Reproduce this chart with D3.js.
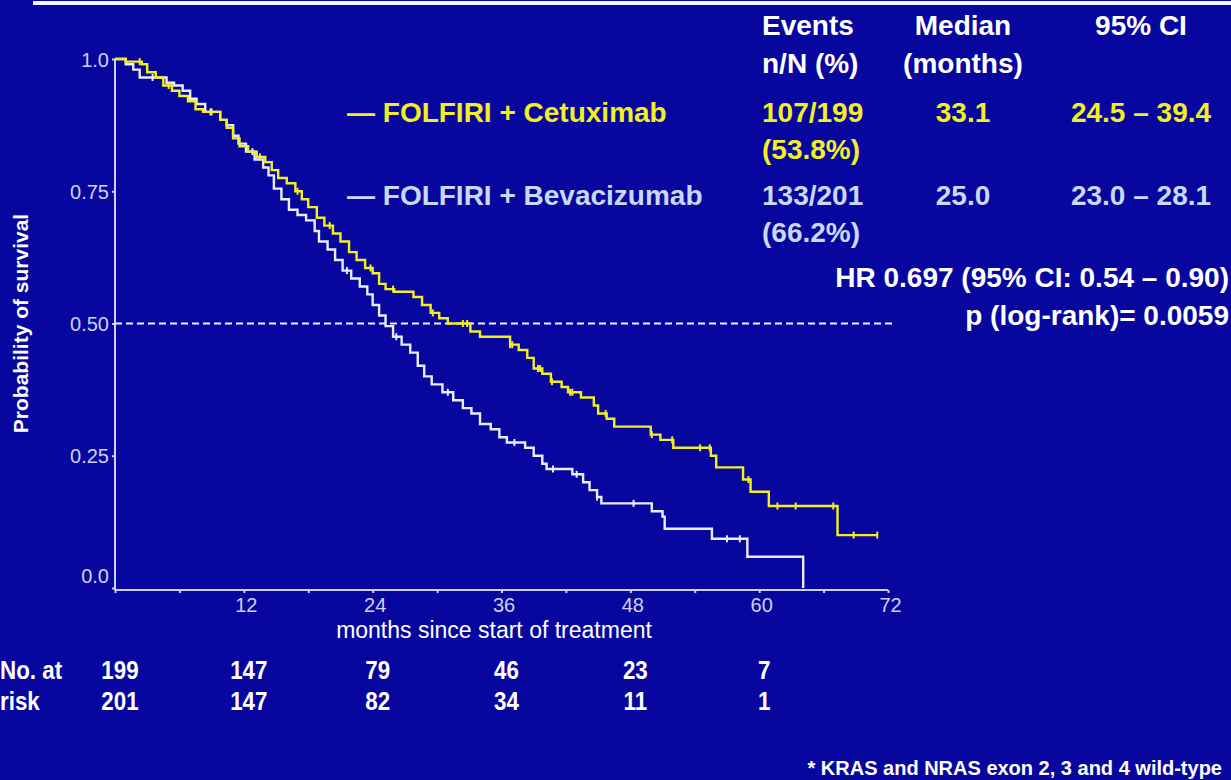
<!DOCTYPE html>
<html>
<head>
<meta charset="utf-8">
<script src="https://cdn.jsdelivr.net/npm/d3@7/dist/d3.min.js"></script>
<style>
  html, body { margin: 0; padding: 0; background: #0707a0; }
  svg { display: block; }
</style>
</head>
<body>
<svg id="chart" width="1231" height="780"></svg>
<script>
// Kaplan–Meier overall survival, FOLFIRI + Cetuximab vs FOLFIRI + Bevacizumab

// Step points: [month, survival after the step]
const cetuximabSteps = [
  [0, 1.0], [1.0, 0.995], [2.5, 0.99], [3.0, 0.975], [3.8, 0.965], [4.5, 0.95],
  [5.3, 0.94], [6.0, 0.93], [6.8, 0.92], [7.5, 0.905], [8.2, 0.90], [9.8, 0.885],
  [10.4, 0.87], [11.0, 0.85], [11.6, 0.835], [12.4, 0.825], [13.2, 0.815], [14.0, 0.805],
  [14.6, 0.79], [15.2, 0.775], [16.0, 0.765], [16.8, 0.75], [17.4, 0.735], [18.0, 0.72],
  [18.8, 0.70], [19.5, 0.685], [20.3, 0.67], [21.0, 0.655], [21.8, 0.635], [22.5, 0.62],
  [23.3, 0.605], [24.0, 0.595], [24.6, 0.575], [25.2, 0.565], [26.0, 0.56], [27.8, 0.55],
  [28.6, 0.535], [29.4, 0.52], [30.2, 0.51], [31.0, 0.50], [33.1, 0.485], [34.0, 0.475],
  [36.8, 0.46], [37.6, 0.45], [38.4, 0.435], [39.0, 0.415], [39.8, 0.405], [40.6, 0.39],
  [41.6, 0.38], [42.2, 0.37], [43.4, 0.36], [44.6, 0.345], [45.0, 0.33], [45.8, 0.32],
  [46.5, 0.305], [49.9, 0.29], [50.8, 0.28], [52.0, 0.265], [55.5, 0.25], [56.0, 0.228],
  [58.5, 0.205], [59.2, 0.182], [60.9, 0.155], [67.3, 0.10], [71.0, 0.10]
];
const cetuximabCensored = [
  2.3, 5.0, 9.0, 13.5, 17.0, 20.0, 23.8, 25.9, 29.6, 32.4, 32.8, 36.8, 37.0, 39.4,
  39.6, 40.7, 42.4, 42.6, 45.7, 50.0, 51.9, 54.5, 55.4, 59.0, 61.7, 63.4, 66.9, 68.8, 71.0
];

const bevacizumabSteps = [
  [0, 1.0], [1.0, 0.99], [1.7, 0.98], [2.3, 0.965], [4.8, 0.955], [5.5, 0.95],
  [6.3, 0.94], [7.0, 0.925], [7.6, 0.915], [8.4, 0.90], [9.8, 0.885], [10.4, 0.875],
  [11.0, 0.855], [11.5, 0.84], [12.2, 0.825], [13.0, 0.81], [13.8, 0.795], [14.3, 0.78],
  [14.8, 0.755], [15.5, 0.735], [16.2, 0.715], [17.0, 0.705], [17.8, 0.695], [18.6, 0.675],
  [19.0, 0.655], [19.8, 0.64], [20.5, 0.62], [21.2, 0.60], [22.0, 0.585], [22.8, 0.57],
  [23.5, 0.555], [24.0, 0.535], [24.6, 0.515], [25.2, 0.495], [25.9, 0.475], [26.7, 0.46],
  [27.5, 0.445], [28.2, 0.42], [28.8, 0.40], [29.5, 0.385], [30.5, 0.37], [31.5, 0.355],
  [32.4, 0.34], [33.2, 0.33], [34.0, 0.31], [35.0, 0.30], [35.8, 0.285], [36.5, 0.275],
  [38.2, 0.265], [39.0, 0.25], [39.8, 0.235], [40.2, 0.225], [42.6, 0.215], [43.6, 0.20],
  [44.2, 0.185], [44.9, 0.172], [45.3, 0.16], [50.0, 0.145], [51.0, 0.135], [51.2, 0.112],
  [55.6, 0.093], [58.9, 0.059], [64.1, 0.0]
];
const bevacizumabCensored = [3.5, 8.9, 12.8, 21.6, 26.2, 31.0, 37.2, 40.8, 43.0, 44.9, 48.3, 57.0, 58.2];

const yTicks = [0, 0.25, 0.5, 0.75, 1.0];
const yTickLabels = ["0.0", "0.25", "0.50", "0.75", "1.0"];
const xTicks = [0, 6, 12, 18, 24, 30, 36, 42, 48, 54, 60, 66, 72];
const xLabelled = [12, 24, 36, 48, 60, 72];

const riskTimes = [0, 12, 24, 36, 48, 60];
const riskCetuximab = [199, 147, 79, 46, 23, 7];
const riskBevacizumab = [201, 147, 82, 34, 11, 1];

const tableHeaders = [["Events", "n/N (%)"], ["Median", "(months)"], ["95% CI", ""]];
const cetuximabRow = { name: "— FOLFIRI + Cetuximab", events: ["107/199", "(53.8%)"], median: "33.1", ci: "24.5 – 39.4" };
const bevacizumabRow = { name: "— FOLFIRI + Bevacizumab", events: ["133/201", "(66.2%)"], median: "25.0", ci: "23.0 – 28.1" };
const medianLevel = 0.5;

const COL_BG = "#0707a0";
const COL_AXIS = "#d0d0ee";
const COL_YELLOW = "#f4f020";
const COL_WHITE = "#ececff";
const COL_LIGHTBLUE = "#cad8f4";

const svg = d3.select("#chart");
svg.append("rect").attr("width", 1231).attr("height", 780).attr("fill", COL_BG);

// top rule
svg.append("rect").attr("x", 33).attr("y", 1).attr("width", 1200).attr("height", 4).attr("fill", "#f4f4ff");

const x = d3.scaleLinear().domain([0, 72]).range([115, 888]);
const y = d3.scaleLinear().domain([0, 1]).range([588, 59]);

const sans = "'Liberation Sans', Arial, sans-serif";

// y axis
const yAxis = d3.axisLeft(y).tickValues(yTicks).tickSize(3).tickFormat((d, i) => yTickLabels[i]);
const gy = svg.append("g").attr("transform", "translate(115,0)").call(yAxis);
gy.select(".domain").attr("stroke", COL_AXIS).attr("stroke-width", 2).attr("d", `M-0,${y(1)}V590`);
gy.selectAll(".tick line").attr("stroke", COL_AXIS).attr("stroke-width", 2);
gy.selectAll(".tick text").attr("fill", COL_AXIS).attr("font-family", sans).attr("font-size", 20).attr("x", -6)
  .attr("dy", d => d === 0 ? "-0.3em" : "0.36em");

// x axis
const xAxis = d3.axisBottom(x).tickValues(xTicks).tickSize(3)
  .tickFormat(d => xLabelled.includes(d) ? d : "");
const gx = svg.append("g").attr("transform", "translate(0,590)").call(xAxis);
gx.select(".domain").attr("stroke", COL_AXIS).attr("stroke-width", 2).attr("d", `M${x(0)},0H${x(72)}`);
gx.selectAll(".tick line").attr("stroke", COL_AXIS).attr("stroke-width", 2);
gx.selectAll(".tick text").attr("fill", COL_AXIS).attr("font-family", sans).attr("font-size", 20).attr("y", 8).attr("dx", 2);

// axis titles
svg.append("text").attr("transform", `translate(28,${y(0.5)}) rotate(-90)`)
  .attr("text-anchor", "middle").attr("fill", "#ffffff").attr("font-family", sans).attr("font-weight", "bold")
  .attr("font-size", 21).text("Probability of survival");
svg.append("text").attr("x", 494).attr("y", 638).attr("text-anchor", "middle")
  .attr("fill", "#ffffff").attr("font-family", sans).attr("font-size", 23).text("months since start of treatment");

// median reference line
svg.append("line").attr("x1", x(0)).attr("x2", x(72.7)).attr("y1", y(medianLevel)).attr("y2", y(medianLevel))
  .attr("stroke", "#f0f0ff").attr("stroke-width", 2).attr("stroke-dasharray", "7,4");

// survival curves
const line = d3.line().x(d => x(d[0])).y(d => y(d[1])).curve(d3.curveStepAfter);

function survivalAt(steps, t) {
  let s = steps[0][1];
  for (const p of steps) { if (p[0] <= t) s = p[1]; else break; }
  return s;
}

function drawCurve(steps, censored, color) {
  svg.append("path").datum(steps).attr("d", line).attr("fill", "none")
    .attr("stroke", color).attr("stroke-width", 2.4);
  svg.append("g").selectAll("line").data(censored).join("line")
    .attr("x1", d => x(d)).attr("x2", d => x(d))
    .attr("y1", d => y(survivalAt(steps, d)) - 3.5).attr("y2", d => y(survivalAt(steps, d)) + 3.5)
    .attr("stroke", color).attr("stroke-width", 2);
}
drawCurve(bevacizumabSteps, bevacizumabCensored, COL_WHITE);
drawCurve(cetuximabSteps, cetuximabCensored, COL_YELLOW);

// summary table
const FS = 28;
const colEvents = 762, colMedian = 963, colCI = 1141;
const headerG = svg.append("g").attr("font-family", sans).attr("font-weight", "bold").attr("font-size", FS).attr("fill", "#ffffff");
headerG.append("text").attr("x", colEvents).attr("y", 35).text(tableHeaders[0][0]);
headerG.append("text").attr("x", colEvents).attr("y", 73).text(tableHeaders[0][1]);
headerG.append("text").attr("x", colMedian).attr("y", 35).attr("text-anchor", "middle").text(tableHeaders[1][0]);
headerG.append("text").attr("x", colMedian).attr("y", 73).attr("text-anchor", "middle").text(tableHeaders[1][1]);
headerG.append("text").attr("x", colCI).attr("y", 35).attr("text-anchor", "middle").text(tableHeaders[2][0]);

function drawRow(row, yBase, color) {
  const g = svg.append("g").attr("font-family", sans).attr("font-weight", "bold").attr("font-size", FS).attr("fill", color);
  g.append("text").attr("x", 347).attr("y", yBase).text(row.name);
  g.append("text").attr("x", colEvents).attr("y", yBase).text(row.events[0]);
  g.append("text").attr("x", colEvents).attr("y", yBase + 37).text(row.events[1]);
  g.append("text").attr("x", colMedian).attr("y", yBase).attr("text-anchor", "middle").text(row.median);
  g.append("text").attr("x", colCI).attr("y", yBase).attr("text-anchor", "middle").text(row.ci);
}
drawRow(cetuximabRow, 122, COL_YELLOW);
drawRow(bevacizumabRow, 205, COL_LIGHTBLUE);

const statsG = svg.append("g").attr("font-family", sans).attr("font-weight", "bold").attr("font-size", FS)
  .attr("fill", "#ffffff").attr("text-anchor", "end");
statsG.append("text").attr("x", 1229).attr("y", 287).text("HR 0.697 (95% CI: 0.54 – 0.90)");
statsG.append("text").attr("x", 1229).attr("y", 325).text("p (log-rank)= 0.0059");

// number at risk (condensed bold)
const riskG = svg.append("g").attr("font-family", sans).attr("font-weight", "bold").attr("font-size", 26).attr("fill", "#ffffff");
const squeeze = 0.86;
function riskText(xPos, yPos, str, anchor) {
  riskG.append("text").attr("transform", `translate(${xPos},${yPos}) scale(${squeeze},1)`)
    .attr("text-anchor", anchor).text(str);
}
riskText(0, 679, "No. at", "start");
riskText(0, 710, "risk", "start");
riskTimes.forEach((t, i) => {
  riskText(x(t) + 5, 679, riskCetuximab[i], "middle");
  riskText(x(t) + 5, 710, riskBevacizumab[i], "middle");
});

// footnote
svg.append("text").attr("x", 1222).attr("y", 775).attr("text-anchor", "end")
  .attr("font-family", sans).attr("font-weight", "bold").attr("font-size", 20).attr("fill", "#ffffff")
  .text("* KRAS and NRAS exon 2, 3 and 4 wild-type");
</script>
</body>
</html>
